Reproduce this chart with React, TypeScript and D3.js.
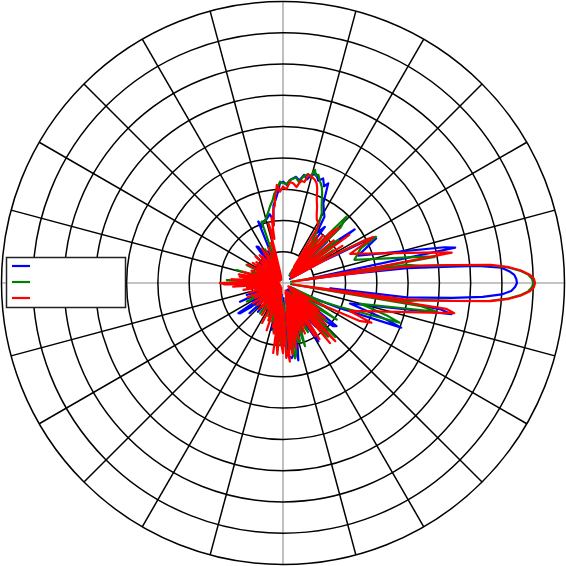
import React from 'react';
import * as d3 from 'd3';

// Levels in dB, angle in degrees (counter-clockwise from east)
const ringLevels = [-40, -35, -30, -25, -20, -15, -10, -5, 0];
const spokeAngles = [0, 15, 30, 45, 60, 75, 90, 105, 120, 135, 150, 165, 180, 195, 210, 225, 240, 255, 270, 285, 300, 315, 330, 345];
const seriesColors = ['#0000ff', '#008000', '#ff0000'];

const bluePattern: [number, number][] = [
  [0, -7.6], [1, -7.7], [2, -8.0], [3, -8.8], [4, -10.0], [5, -13.8], [5.6, -18.1], [6.8, -25.0], [8, -35.4], [8.9, -41.2],
  [11.6, -16.9], [12.5, -18.6], [20, -32.2], [25.6, -28.5], [27, -30.6], [29, -38.6], [30.5, -43.7], [31.5, -36.2], [33, -43.4],
  [36.8, -30.7], [38, -33.8], [40, -43.4], [43, -35.4], [46, -43.4], [49, -37.0], [52, -43.1], [53.3, -33.8], [56, -35.4],
  [58, -32.5], [60, -31.9], [63.2, -30.7], [65.6, -27.5], [67, -28.2], [69, -27.1], [71, -27.7], [73, -26.8], [75.1, -27.1],
  [77, -28.0], [79, -27.4], [81, -28.4], [83, -27.9], [86.1, -28.5], [88, -29.3], [89.8, -28.8], [91.7, -29.0], [93, -30.3],
  [95, -31.6], [97, -32.5], [98.7, -34.8], [101, -33.8], [104, -34.4], [107.8, -34.7], [110, -35.4], [111.9, -34.4], [113, -43.7],
  [116, -39.4], [119, -44.0], [122, -41.0], [124.2, -38.0], [125.9, -37.8], [128, -44.0], [132, -40.5], [135, -44.2],
  [139.4, -40.2], [141.5, -43.7], [143.9, -40.1], [147, -44.0], [151, -40.8], [154, -44.2], [158, -41.2], [160.9, -40.3],
  [162.8, -39.8], [165.7, -39.8], [168, -44.0], [172, -41.0], [175, -44.2], [179, -41.8], [182, -44.0], [185, -40.2],
  [188, -44.2], [192, -40.5], [195, -43.9], [198.3, -38.9], [200.5, -43.7], [203.5, -37.5], [206, -44.0], [210, -39.4],
  [212, -43.7], [214, -36.4], [215.2, -36.6], [217, -38.7], [219, -44.0], [222, -37.8], [225, -44.2], [229, -38.9],
  [232, -44.0], [236, -40.2], [239, -44.2], [243, -39.9], [246, -44.0], [250, -40.5], [253, -43.7], [256.5, -37.3],
  [258.5, -43.4], [262, -37.0], [264, -43.1], [266, -35.7], [269, -36.7], [270.3, -34.8], [271.5, -42.6], [274.2, -33.4],
  [276.6, -32.9], [278.2, -33.4], [279.5, -41.8], [281.2, -32.4], [283, -34.6], [284.5, -43.1], [286, -35.4], [289, -37.8],
  [290.5, -43.4], [292, -36.7], [295, -39.4], [296.5, -43.7], [298, -37.8], [301.2, -34.1], [302.5, -43.4], [304, -38.6],
  [307, -36.2], [308.5, -43.7], [310, -40.2], [312.9, -34.7], [314, -43.4], [316.8, -37.7], [319.3, -34.4], [321.1, -34.0],
  [322.5, -43.4], [326, -41.0], [330, -37.8], [331.5, -43.7], [333, -40.2], [336, -35.4], [339.3, -24.8], [340.5, -27.4],
  [343, -33.8], [349.5, -17.6], [350.5, -19.4], [353.6, -37.4], [353.4, -25.1], [354, -22.6], [355, -17.8], [356, -13.0],
  [357, -10.0], [358, -8.5], [359, -7.9],
];

const greenPattern: [number, number][] = [
  [0, -5.0], [1, -5.2], [2, -5.8], [3, -7.1], [4, -9.0], [5, -12.0], [6, -17.8], [7, -22.6], [8.3, -25.0], [9, -43.7],
  [9.3, -32.2], [9.8, -20.4], [10.5, -21.8], [18, -33.0], [24, -31.4], [26.4, -28.4], [27.5, -29.8], [29, -37.0], [31, -43.4],
  [33, -35.4], [35, -43.1], [38, -33.8], [41, -42.6], [44, -32.2], [46.3, -30.3], [47.5, -35.4], [50, -43.4], [52, -36.2],
  [54, -42.6], [55, -37.0], [57, -35.1], [59, -33.8], [61, -32.2], [63, -31.4], [65, -30.3], [66.5, -29.3], [68.1, -28.4],
  [70, -27.7], [71.9, -26.8], [73, -27.1], [74.2, -26.2], [75.5, -27.4], [77, -27.1], [79.2, -27.7], [81, -28.7], [83, -28.0],
  [86.1, -28.5], [88, -29.2], [89.8, -29.0], [91.7, -28.8], [93.9, -30.1], [95.5, -30.6], [97, -31.6], [99.7, -32.6],
  [102, -33.5], [104, -34.1], [106.4, -34.8], [109.2, -34.6], [111, -43.4], [114, -40.2], [116, -44.0], [118, -38.9],
  [121, -43.7], [124, -41.0], [127, -44.2], [130, -39.9], [133, -44.0], [136, -41.5], [139, -43.9], [142, -40.2], [145, -44.2],
  [148, -40.8], [151, -43.7], [153.6, -38.5], [156, -44.0], [160, -39.7], [162, -43.9], [164.3, -37.3], [167, -44.0],
  [171, -39.4], [173.5, -43.7], [177, -36.0], [179, -43.4], [183, -38.3], [186, -44.0], [189, -40.2], [192, -44.2],
  [196, -40.5], [199, -43.7], [203.6, -39.6], [205, -43.4], [207.2, -38.5], [210, -44.0], [214, -40.2], [217, -44.2],
  [220, -39.4], [223, -43.9], [227, -40.8], [230, -44.0], [233, -38.9], [236, -43.7], [240, -40.2], [243, -44.2], [246, -39.2],
  [249, -43.7], [254, -38.6], [256, -43.4], [258.8, -37.1], [261, -43.1], [264, -36.2], [266, -42.6], [267.5, -35.1],
  [270, -35.7], [271.5, -41.8], [273, -33.8], [276, -34.4], [277.5, -41.0], [279.1, -32.8], [281, -33.8], [282.5, -42.6],
  [284, -35.4], [286, -35.1], [287.5, -43.1], [289.2, -34.3], [291, -37.0], [292.5, -43.4], [294, -38.6], [297, -36.2],
  [298.5, -43.4], [300, -39.4], [303, -35.4], [304.5, -43.1], [306, -38.3], [310, -33.8], [311.5, -42.6], [314.1, -33.0],
  [315.5, -43.4], [317, -37.8], [319, -35.7], [320.5, -43.7], [322, -40.2], [325.7, -34.6], [327, -43.4], [331, -36.2],
  [332.5, -43.1], [334, -38.6], [337, -35.4], [341.2, -25.3], [342.5, -27.4], [345, -32.2], [349.4, -20.0], [350.5, -22.6],
  [351, -43.7], [351.7, -25.0], [353, -22.6], [354, -17.8], [355, -12.0], [356, -9.0], [357, -7.1], [358, -5.8], [359, -5.2],
];

const redPattern: [number, number][] = [
  [0, -4.7], [1, -4.9], [2, -5.6], [3, -6.9], [4, -8.8], [5, -11.7], [6, -17.5], [7, -22.3], [7.6, -25.6], [8.6, -43.4],
  [9.5, -29.8], [10.2, -17.6], [11, -19.4], [23.5, -33.3], [26.9, -28.8], [27.5, -30.3], [28.5, -35.4], [30, -43.4],
  [32, -33.8], [34, -43.1], [36, -31.9], [38, -42.6], [40, -34.4], [42, -43.4], [44.8, -32.5], [46.8, -34.1], [48, -43.1],
  [50, -35.1], [52, -42.6], [54, -35.7], [56, -41.8], [58, -34.4], [60, -33.8], [62, -33.5], [64, -32.7], [66, -31.6],
  [68, -30.6], [70, -29.0], [71.3, -28.2], [73, -27.7], [75, -27.4], [76.8, -27.2], [78, -28.5], [80, -28.4], [82, -29.5],
  [84, -29.0], [86, -28.8], [88, -30.0], [90, -29.6], [91.9, -30.4], [93.6, -29.3], [94.5, -30.6], [95.3, -31.1], [96, -32.5],
  [97.6, -33.2], [99, -35.7], [100, -34.4], [101, -37.8], [103.8, -35.2], [105, -43.7], [106.5, -38.3], [108, -44.0],
  [109.5, -40.2], [111, -44.2], [112.5, -38.9], [114, -43.9], [115.5, -41.0], [117, -44.4], [118.5, -39.4], [120, -43.7],
  [121.5, -38.6], [123, -44.2], [124.5, -40.5], [126, -44.0], [127.5, -39.7], [129, -44.4], [130, -39.2], [131.5, -44.0],
  [133, -40.2], [134.5, -44.2], [136, -38.9], [137.5, -43.7], [139, -40.8], [140.5, -44.4], [142, -39.6], [143.5, -43.9],
  [145, -41.5], [146.4, -39.2], [148, -44.2], [149.5, -40.2], [151, -43.7], [152.5, -38.6], [154, -44.2], [155.5, -40.5],
  [157, -44.0], [158.5, -39.6], [160, -44.4], [161.5, -40.8], [163, -43.9], [164.5, -38.3], [166, -44.2], [167.5, -40.2],
  [169, -37.8], [170.5, -43.7], [171.7, -38.0], [173, -44.0], [174.5, -39.4], [176, -36.7], [177, -43.4], [178.5, -38.6],
  [180, -34.9], [181.5, -35.7], [182.5, -43.7], [184.3, -37.0], [185.5, -44.2], [187, -39.2], [188.5, -44.0], [190, -38.6],
  [191.5, -44.2], [193, -40.5], [194.5, -43.9], [196, -39.4], [197.5, -44.4], [199, -41.0], [200.5, -43.7], [202, -38.9],
  [203.5, -44.2], [205, -40.2], [206.5, -44.0], [208, -39.9], [209.5, -44.4], [211, -41.2], [212.5, -43.9], [214, -39.2],
  [215.5, -44.2], [217, -40.5], [218.5, -44.0], [220, -39.6], [221.4, -40.0], [223, -44.2], [224.5, -40.8], [226, -43.9],
  [227.5, -39.4], [229, -44.4], [230.3, -40.0], [232, -44.0], [233.5, -41.0], [235, -44.2], [236.5, -38.9], [238, -43.7],
  [239.5, -40.5], [241, -44.2], [242.5, -37.8], [244, -44.0], [245.5, -40.2], [247, -43.7], [248.5, -38.6], [250, -44.2],
  [250.9, -37.0], [252.5, -43.9], [254, -39.9], [255.5, -44.0], [257, -37.8], [258.5, -43.7], [259.5, -36.8], [261, -43.4],
  [262, -33.7], [263, -42.6], [264, -35.4], [265.5, -33.5], [267, -41.8], [268.5, -35.1], [270, -33.8], [271, -41.0],
  [272.5, -33.0], [274, -34.1], [275, -32.4], [276.5, -40.2], [277.5, -33.5], [279, -35.4], [280, -42.6], [281.5, -34.4],
  [283, -37.0], [284, -43.4], [285.5, -35.7], [287, -37.8], [288, -43.7], [289.5, -36.7], [291, -38.6], [292, -43.4],
  [293.5, -36.2], [295, -43.1], [296.5, -37.3], [298, -43.4], [299.5, -38.6], [301, -35.1], [302, -43.1], [303, -34.3],
  [304.5, -42.6], [306, -38.6], [308, -32.8], [309, -41.8], [310.5, -36.2], [312, -32.5], [313, -42.6], [314.5, -38.6],
  [316, -35.4], [317, -43.4], [318.5, -40.2], [320, -36.2], [321.5, -43.7], [323, -37.8], [325, -43.1], [326.5, -40.2],
  [328, -44.0], [330, -38.6], [333.6, -31.4], [335.8, -29.5], [337.2, -33.5], [350, -17.2], [351, -18.6], [351.4, -43.4],
  [352.4, -25.6], [353, -22.3], [354, -17.5], [355, -11.7], [356, -8.8], [357, -6.9], [358, -5.6], [359, -4.9],
];

const series = [bluePattern, greenPattern, redPattern];

export default function App() {
  const W = 566, H = 566, cx = 283, cy = 283, R = 281.5;
  const r = d3.scaleLinear().domain([-45, 0]).range([0, R]).clamp(true);
  const toRad = (deg: number) => (deg * Math.PI) / 180;
  const line = d3
    .lineRadial<[number, number]>()
    .angle((d) => Math.PI / 2 - toRad(d[0]))
    .radius((d) => r(d[1]))
    .curve(d3.curveLinearClosed);

  const inner = r(ringLevels[0]);
  return (
    <svg width={W} height={H} style={{ position: 'absolute', left: 0, top: 0 }}>
      <rect width={W} height={H} fill="white" />
      <g transform={`translate(${cx},${cy})`}>
        {spokeAngles.filter((a) => a % 90 === 0).map((a) => (
          <line key={'ax' + a}
            x1={0} y1={0}
            x2={R * Math.cos(toRad(a))} y2={-R * Math.sin(toRad(a))}
            stroke="#b0b0b0" strokeWidth={1.6} />
        ))}
        {spokeAngles.filter((a) => a % 90 !== 0).map((a) => (
          <line key={'sp' + a}
            x1={inner * Math.cos(toRad(a))} y1={-inner * Math.sin(toRad(a))}
            x2={R * Math.cos(toRad(a))} y2={-R * Math.sin(toRad(a))}
            stroke="black" strokeWidth={1.5} />
        ))}
        {ringLevels.map((lv) => (
          <circle key={'c' + lv} r={r(lv)} fill="none" stroke="black" strokeWidth={1.5} />
        ))}
        {series.map((s, i) => (
          <path key={'s' + i} d={line(s) || ''} fill="none" stroke={seriesColors[i]}
            strokeWidth={2.2} strokeLinejoin="round" />
        ))}
      </g>
      <g>
        <rect x={6.5} y={257.5} width={119} height={50} fill="white" stroke="#222" strokeWidth={1.5} />
        {seriesColors.map((c, i) => (
          <line key={'lg' + i} x1={12} x2={30} y1={266 + i * 16} y2={266 + i * 16} stroke={c} strokeWidth={2.2} />
        ))}
      </g>
    </svg>
  );
}
